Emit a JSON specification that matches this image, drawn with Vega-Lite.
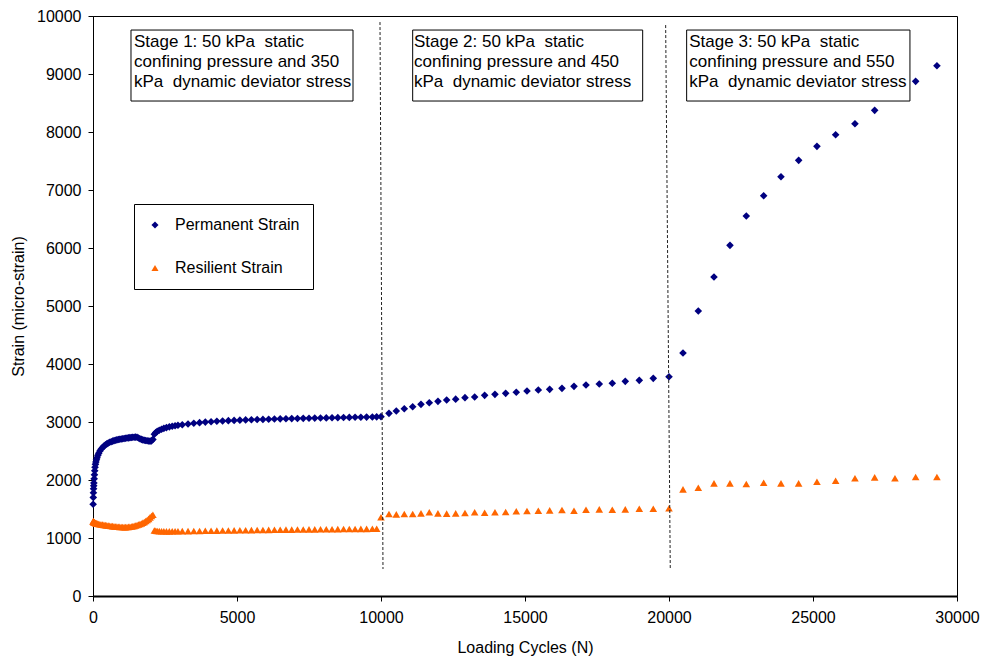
{
  "$schema": "https://vega.github.io/schema/vega-lite/v6.json",
  "autosize": "none",
  "width": 864,
  "height": 580,
  "padding": {"left": 93, "top": 16, "right": 26, "bottom": 63},
  "background": "white",
  "config": {
    "font": "Liberation Sans",
    "view": {"stroke": "black", "strokeWidth": 1},
    "axis": {"grid": false, "labelFont": "Liberation Sans", "titleFont": "Liberation Sans", "labelColor": "black", "titleColor": "black", "tickColor": "black", "domainColor": "black", "labelFontSize": 16, "titleFontSize": 16, "titleFontWeight": "normal", "tickSize": 5, "labelFlush": false, "labelOverlap": false}
  },
  "layer": [
    {
      "data": {"values": [
        {"N": 5, "Permanent Strain": 1581, "Resilient Strain": 1290},
        {"N": 10, "Permanent Strain": 1700, "Resilient Strain": 1285},
        {"N": 15, "Permanent Strain": 1780, "Resilient Strain": 1282},
        {"N": 20, "Permanent Strain": 1850, "Resilient Strain": 1280},
        {"N": 25, "Permanent Strain": 1900, "Resilient Strain": 1278},
        {"N": 30, "Permanent Strain": 1950, "Resilient Strain": 1276},
        {"N": 40, "Permanent Strain": 2020, "Resilient Strain": 1272},
        {"N": 50, "Permanent Strain": 2090, "Resilient Strain": 1268},
        {"N": 60, "Permanent Strain": 2160, "Resilient Strain": 1265},
        {"N": 70, "Permanent Strain": 2220, "Resilient Strain": 1262},
        {"N": 85, "Permanent Strain": 2270, "Resilient Strain": 1258},
        {"N": 100, "Permanent Strain": 2310, "Resilient Strain": 1255},
        {"N": 120, "Permanent Strain": 2350, "Resilient Strain": 1252},
        {"N": 140, "Permanent Strain": 2385, "Resilient Strain": 1249},
        {"N": 170, "Permanent Strain": 2425, "Resilient Strain": 1245},
        {"N": 200, "Permanent Strain": 2460, "Resilient Strain": 1242},
        {"N": 240, "Permanent Strain": 2500, "Resilient Strain": 1238},
        {"N": 280, "Permanent Strain": 2530, "Resilient Strain": 1234},
        {"N": 330, "Permanent Strain": 2560, "Resilient Strain": 1230},
        {"N": 380, "Permanent Strain": 2585, "Resilient Strain": 1226},
        {"N": 430, "Permanent Strain": 2605, "Resilient Strain": 1222},
        {"N": 480, "Permanent Strain": 2622, "Resilient Strain": 1218},
        {"N": 530, "Permanent Strain": 2637, "Resilient Strain": 1214},
        {"N": 580, "Permanent Strain": 2650, "Resilient Strain": 1210},
        {"N": 630, "Permanent Strain": 2660, "Resilient Strain": 1207},
        {"N": 680, "Permanent Strain": 2670, "Resilient Strain": 1204},
        {"N": 730, "Permanent Strain": 2678, "Resilient Strain": 1201},
        {"N": 780, "Permanent Strain": 2685, "Resilient Strain": 1198},
        {"N": 830, "Permanent Strain": 2692, "Resilient Strain": 1196},
        {"N": 880, "Permanent Strain": 2698, "Resilient Strain": 1194},
        {"N": 930, "Permanent Strain": 2703, "Resilient Strain": 1192},
        {"N": 980, "Permanent Strain": 2708, "Resilient Strain": 1190},
        {"N": 1030, "Permanent Strain": 2712, "Resilient Strain": 1189},
        {"N": 1080, "Permanent Strain": 2716, "Resilient Strain": 1188},
        {"N": 1130, "Permanent Strain": 2720, "Resilient Strain": 1188},
        {"N": 1180, "Permanent Strain": 2724, "Resilient Strain": 1189},
        {"N": 1230, "Permanent Strain": 2727, "Resilient Strain": 1191},
        {"N": 1280, "Permanent Strain": 2730, "Resilient Strain": 1194},
        {"N": 1330, "Permanent Strain": 2733, "Resilient Strain": 1198},
        {"N": 1380, "Permanent Strain": 2736, "Resilient Strain": 1203},
        {"N": 1430, "Permanent Strain": 2738, "Resilient Strain": 1209},
        {"N": 1480, "Permanent Strain": 2740, "Resilient Strain": 1216},
        {"N": 1530, "Permanent Strain": 2738, "Resilient Strain": 1224},
        {"N": 1580, "Permanent Strain": 2725, "Resilient Strain": 1232},
        {"N": 1630, "Permanent Strain": 2712, "Resilient Strain": 1241},
        {"N": 1680, "Permanent Strain": 2700, "Resilient Strain": 1250},
        {"N": 1730, "Permanent Strain": 2692, "Resilient Strain": 1262},
        {"N": 1780, "Permanent Strain": 2686, "Resilient Strain": 1276},
        {"N": 1830, "Permanent Strain": 2680, "Resilient Strain": 1292},
        {"N": 1880, "Permanent Strain": 2676, "Resilient Strain": 1310},
        {"N": 1930, "Permanent Strain": 2672, "Resilient Strain": 1330},
        {"N": 1980, "Permanent Strain": 2670, "Resilient Strain": 1355},
        {"N": 2030, "Permanent Strain": 2675, "Resilient Strain": 1380},
        {"N": 2080, "Permanent Strain": 2700, "Resilient Strain": 1400},
        {"N": 2130, "Permanent Strain": 2790, "Resilient Strain": 1128},
        {"N": 2180, "Permanent Strain": 2818, "Resilient Strain": 1124},
        {"N": 2230, "Permanent Strain": 2838, "Resilient Strain": 1121},
        {"N": 2300, "Permanent Strain": 2858, "Resilient Strain": 1119},
        {"N": 2380, "Permanent Strain": 2876, "Resilient Strain": 1117},
        {"N": 2460, "Permanent Strain": 2891, "Resilient Strain": 1116},
        {"N": 2550, "Permanent Strain": 2904, "Resilient Strain": 1115},
        {"N": 2650, "Permanent Strain": 2916, "Resilient Strain": 1115},
        {"N": 2750, "Permanent Strain": 2926, "Resilient Strain": 1116},
        {"N": 2850, "Permanent Strain": 2935, "Resilient Strain": 1116},
        {"N": 2950, "Permanent Strain": 2943, "Resilient Strain": 1117},
        {"N": 3100, "Permanent Strain": 2953, "Resilient Strain": 1118},
        {"N": 3300, "Permanent Strain": 2966, "Resilient Strain": 1119},
        {"N": 3500, "Permanent Strain": 2978, "Resilient Strain": 1121},
        {"N": 3700, "Permanent Strain": 2989, "Resilient Strain": 1122},
        {"N": 3900, "Permanent Strain": 2998, "Resilient Strain": 1124},
        {"N": 4100, "Permanent Strain": 3005, "Resilient Strain": 1125},
        {"N": 4300, "Permanent Strain": 3012, "Resilient Strain": 1127},
        {"N": 4500, "Permanent Strain": 3018, "Resilient Strain": 1128},
        {"N": 4700, "Permanent Strain": 3023, "Resilient Strain": 1130},
        {"N": 4900, "Permanent Strain": 3028, "Resilient Strain": 1131},
        {"N": 5100, "Permanent Strain": 3032, "Resilient Strain": 1133},
        {"N": 5300, "Permanent Strain": 3036, "Resilient Strain": 1134},
        {"N": 5500, "Permanent Strain": 3039, "Resilient Strain": 1136},
        {"N": 5700, "Permanent Strain": 3042, "Resilient Strain": 1137},
        {"N": 5900, "Permanent Strain": 3045, "Resilient Strain": 1139},
        {"N": 6100, "Permanent Strain": 3048, "Resilient Strain": 1140},
        {"N": 6300, "Permanent Strain": 3051, "Resilient Strain": 1142},
        {"N": 6500, "Permanent Strain": 3054, "Resilient Strain": 1143},
        {"N": 6700, "Permanent Strain": 3056, "Resilient Strain": 1144},
        {"N": 6900, "Permanent Strain": 3059, "Resilient Strain": 1145},
        {"N": 7100, "Permanent Strain": 3061, "Resilient Strain": 1146},
        {"N": 7300, "Permanent Strain": 3063, "Resilient Strain": 1147},
        {"N": 7500, "Permanent Strain": 3065, "Resilient Strain": 1148},
        {"N": 7700, "Permanent Strain": 3067, "Resilient Strain": 1149},
        {"N": 7900, "Permanent Strain": 3069, "Resilient Strain": 1150},
        {"N": 8100, "Permanent Strain": 3071, "Resilient Strain": 1151},
        {"N": 8300, "Permanent Strain": 3073, "Resilient Strain": 1152},
        {"N": 8500, "Permanent Strain": 3075, "Resilient Strain": 1153},
        {"N": 8700, "Permanent Strain": 3077, "Resilient Strain": 1154},
        {"N": 8900, "Permanent Strain": 3079, "Resilient Strain": 1155},
        {"N": 9100, "Permanent Strain": 3081, "Resilient Strain": 1156},
        {"N": 9300, "Permanent Strain": 3083, "Resilient Strain": 1157},
        {"N": 9500, "Permanent Strain": 3085, "Resilient Strain": 1158},
        {"N": 9700, "Permanent Strain": 3087, "Resilient Strain": 1159},
        {"N": 9850, "Permanent Strain": 3089, "Resilient Strain": 1160},
        {"N": 10000, "Permanent Strain": 3092, "Resilient Strain": 1357},
        {"N": 10277, "Permanent Strain": 3149, "Resilient Strain": 1414},
        {"N": 10531, "Permanent Strain": 3189, "Resilient Strain": 1408},
        {"N": 10809, "Permanent Strain": 3229, "Resilient Strain": 1414},
        {"N": 11100, "Permanent Strain": 3264, "Resilient Strain": 1414},
        {"N": 11388, "Permanent Strain": 3304, "Resilient Strain": 1425},
        {"N": 11677, "Permanent Strain": 3333, "Resilient Strain": 1443},
        {"N": 11978, "Permanent Strain": 3356, "Resilient Strain": 1425},
        {"N": 12280, "Permanent Strain": 3379, "Resilient Strain": 1420},
        {"N": 12593, "Permanent Strain": 3394, "Resilient Strain": 1425},
        {"N": 12916, "Permanent Strain": 3420, "Resilient Strain": 1431},
        {"N": 13252, "Permanent Strain": 3431, "Resilient Strain": 1443},
        {"N": 13599, "Permanent Strain": 3460, "Resilient Strain": 1436},
        {"N": 13957, "Permanent Strain": 3477, "Resilient Strain": 1443},
        {"N": 14329, "Permanent Strain": 3494, "Resilient Strain": 1448},
        {"N": 14697, "Permanent Strain": 3512, "Resilient Strain": 1460},
        {"N": 15069, "Permanent Strain": 3534, "Resilient Strain": 1465},
        {"N": 15462, "Permanent Strain": 3551, "Resilient Strain": 1471},
        {"N": 15857, "Permanent Strain": 3563, "Resilient Strain": 1477},
        {"N": 16284, "Permanent Strain": 3580, "Resilient Strain": 1483},
        {"N": 16701, "Permanent Strain": 3615, "Resilient Strain": 1471},
        {"N": 17118, "Permanent Strain": 3638, "Resilient Strain": 1488},
        {"N": 17579, "Permanent Strain": 3655, "Resilient Strain": 1494},
        {"N": 18031, "Permanent Strain": 3667, "Resilient Strain": 1488},
        {"N": 18482, "Permanent Strain": 3701, "Resilient Strain": 1494},
        {"N": 18968, "Permanent Strain": 3718, "Resilient Strain": 1505},
        {"N": 19454, "Permanent Strain": 3753, "Resilient Strain": 1505},
        {"N": 20000, "Permanent Strain": 3781, "Resilient Strain": 1512},
        {"N": 20486, "Permanent Strain": 4189, "Resilient Strain": 1839},
        {"N": 21017, "Permanent Strain": 4913, "Resilient Strain": 1867},
        {"N": 21562, "Permanent Strain": 5500, "Resilient Strain": 1942},
        {"N": 22117, "Permanent Strain": 6046, "Resilient Strain": 1942},
        {"N": 22684, "Permanent Strain": 6551, "Resilient Strain": 1931},
        {"N": 23287, "Permanent Strain": 6902, "Resilient Strain": 1953},
        {"N": 23888, "Permanent Strain": 7229, "Resilient Strain": 1942},
        {"N": 24502, "Permanent Strain": 7511, "Resilient Strain": 1942},
        {"N": 25137, "Permanent Strain": 7753, "Resilient Strain": 1971},
        {"N": 25786, "Permanent Strain": 7953, "Resilient Strain": 1988},
        {"N": 26457, "Permanent Strain": 8142, "Resilient Strain": 2029},
        {"N": 27141, "Permanent Strain": 8373, "Resilient Strain": 2046},
        {"N": 27846, "Permanent Strain": 8620, "Resilient Strain": 2029},
        {"N": 28564, "Permanent Strain": 8873, "Resilient Strain": 2052},
        {"N": 29303, "Permanent Strain": 9143, "Resilient Strain": 2052}
      ]},
      "transform": [{"fold": ["Permanent Strain", "Resilient Strain"], "as": ["series", "strain"]}],
      "mark": {"type": "point", "filled": true, "opacity": 1, "size": 58},
      "encoding": {
        "x": {"field": "N", "type": "quantitative", "title": "Loading Cycles (N)", "scale": {"domain": [0, 30000], "nice": false}, "axis": {"values": [0, 5000, 10000, 15000, 20000, 25000, 30000], "format": "d", "domainWidth": 2, "labelPadding": 8, "titleY": 51, "titleBaseline": "middle"}},
        "y": {"field": "strain", "type": "quantitative", "title": "Strain (micro-strain)", "scale": {"domain": [0, 10000], "nice": false}, "axis": {"values": [0, 1000, 2000, 3000, 4000, 5000, 6000, 7000, 8000, 9000, 10000], "format": "d", "domainWidth": 1, "labelPadding": 7, "titleX": -75, "titleY": 290, "titleAngle": -90, "titleBaseline": "middle", "titleAlign": "center"}},
        "color": {"field": "series", "type": "nominal", "scale": {"domain": ["Permanent Strain", "Resilient Strain"], "range": ["#000080", "#FF6600"]}, "legend": {"title": null, "orient": "none", "legendX": 41, "legendY": 188, "strokeColor": "black", "fillColor": "white", "padding": 13, "labelFontSize": 16, "labelFont": "Liberation Sans", "labelColor": "black", "symbolSize": 50, "rowPadding": 27, "labelOffset": 12}},
        "shape": {"field": "series", "type": "nominal", "scale": {"domain": ["Permanent Strain", "Resilient Strain"], "range": ["diamond", "triangle-up"]}, "legend": null}
      }
    },
    {
      "data": {"values": [
        {"N": 9965, "N2": 10069, "strain": 9896, "strain2": 465},
        {"N": 19884, "N2": 20044, "strain": 9844, "strain2": 465}
      ]},
      "mark": {"type": "rule", "strokeDash": [3, 2], "color": "#222222", "strokeWidth": 1},
      "encoding": {
        "x": {"field": "N", "type": "quantitative", "title": "Loading Cycles (N)", "scale": {"domain": [0, 30000], "nice": false}},
        "x2": {"field": "N2"},
        "y": {"field": "strain", "type": "quantitative", "title": "Strain (micro-strain)", "scale": {"domain": [0, 10000], "nice": false}},
        "y2": {"field": "strain2"}
      }
    },
    {
      "data": {"values": [
        {"N": 1319, "N2": 9028, "strain": 9758, "strain2": 8534},
        {"N": 11100, "N2": 19086, "strain": 9758, "strain2": 8534},
        {"N": 20613, "N2": 28366, "strain": 9758, "strain2": 8534}
      ]},
      "mark": {"type": "rect", "fill": "white", "stroke": "black", "strokeWidth": 1},
      "encoding": {
        "x": {"field": "N", "type": "quantitative", "title": "Loading Cycles (N)", "scale": {"domain": [0, 30000], "nice": false}},
        "x2": {"field": "N2"},
        "y": {"field": "strain", "type": "quantitative", "title": "Strain (micro-strain)", "scale": {"domain": [0, 10000], "nice": false}},
        "y2": {"field": "strain2"}
      }
    },
    {
      "data": {"values": [
        {"N": 1424, "strain": 9556, "label": "Stage 1: 50 kPa\u00a0 static"},
        {"N": 1424, "strain": 9211, "label": "confining pressure and 350"},
        {"N": 1424, "strain": 8866, "label": "kPa\u00a0 dynamic deviator stress"},
        {"N": 11145, "strain": 9556, "label": "Stage 2: 50 kPa\u00a0 static"},
        {"N": 11145, "strain": 9211, "label": "confining pressure and 450"},
        {"N": 11145, "strain": 8866, "label": "kPa\u00a0 dynamic deviator stress"},
        {"N": 20704, "strain": 9556, "label": "Stage 3: 50 kPa\u00a0 static"},
        {"N": 20704, "strain": 9211, "label": "confining pressure and 550"},
        {"N": 20704, "strain": 8866, "label": "kPa\u00a0 dynamic deviator stress"}
      ]},
      "mark": {"type": "text", "align": "left", "baseline": "middle", "fontSize": 17, "font": "Liberation Sans", "color": "black"},
      "encoding": {
        "x": {"field": "N", "type": "quantitative", "title": "Loading Cycles (N)", "scale": {"domain": [0, 30000], "nice": false}},
        "y": {"field": "strain", "type": "quantitative", "title": "Strain (micro-strain)", "scale": {"domain": [0, 10000], "nice": false}},
        "text": {"field": "label", "type": "nominal"}
      }
    }
  ]
}
